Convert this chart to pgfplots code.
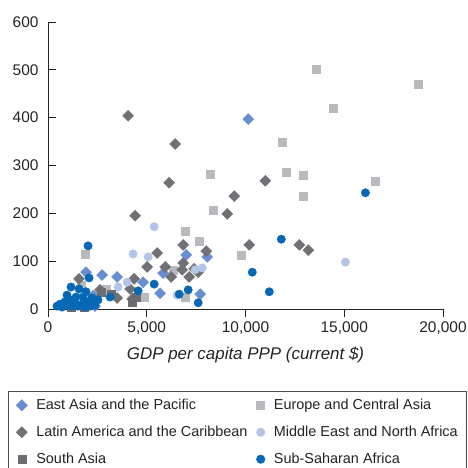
\documentclass[border=0pt]{standalone}
\usepackage{pgfplots}
\pgfplotsset{compat=1.18}
\usepackage{fontspec}
\setmainfont{Liberation Sans}

\definecolor{eap}{RGB}{104,142,208}
\definecolor{eca}{RGB}{185,186,190}
\definecolor{lac}{RGB}{112,113,116}
\definecolor{mena}{RGB}{178,197,232}
\definecolor{sa}{RGB}{108,109,112}
\definecolor{ssa}{RGB}{8,104,182}
\definecolor{txt}{RGB}{35,35,35}

\begin{document}
\begin{tikzpicture}
\begin{axis}[
    at={(48bp,-309bp)}, anchor=south west,
    scale only axis,
    width=395bp, height=287bp,
    xmin=0, xmax=20000, ymin=0, ymax=600,
    axis x line*=bottom, axis y line*=left,
    axis line style={txt, line width=0.7pt},
    xtick={0,5000,10000,15000,20000},
    ytick={0,100,...,600},
    scaled x ticks=false,
    xtick align=outside, ytick align=inside,
    major tick length=8bp,
    xtick style={draw=txt, line width=0.7pt},
    ytick style={draw=txt, line width=0.7pt},
    /pgf/number format/1000 sep={,},
    /pgf/number format/assume math mode=true,
    ticklabel style={font=\fontsize{15.5}{18}\selectfont, text=txt},
    x tick label style={yshift=-1bp},
    y tick label style={xshift=-6bp},
    xlabel={\textit{GDP per capita PPP (current \$)}},
    xlabel style={font=\fontsize{17}{19}\selectfont, text=txt, yshift=-6bp},
    clip=false,
    every axis plot/.append style={only marks},
    legend columns=2,
    legend cell align=left,
    legend image code/.code={\draw[mark repeat=2, mark phase=2, #1] plot coordinates {(0bp,0bp) (6bp,0bp) (12bp,0bp)};},
    legend style={
        at={(-0.1013,-0.2857)}, anchor=north west,
        draw=black!70, line width=0.6pt,
        font=\fontsize{14.5}{17}\selectfont,
        text=txt,
        inner xsep=8bp, inner ysep=7bp,
        nodes={inner sep=1bp},
        row sep=13bp,
        /tikz/every odd column/.append style={column sep=8bp},
        /tikz/every even column/.append style={column sep=8bp},
    },
]

% East Asia and the Pacific
\addplot[mark=square*, mark size=3.9bp, mark options={rotate=45, fill=eap, draw=eap}] coordinates {
    (10140,397) (6997,113) (8061,109) (5831,75) (4817,56) (5678,33)
    (7706,31) (1927,77) (2738,71) (3498,67) (2383,6) (2300,28)
};

% Europe and Central Asia
\addplot[mark=square*, mark size=4bp, mark options={fill=eca, draw=eca}] coordinates {
    (13590,502) (18760,469) (14450,420) (11860,349) (8213,282) (12067,287)
    (12929,280) (16579,268) (12929,236) (8366,207) (7656,142) (9785,113)
    (6946,163) (6338,82) (6946,25) (4867,25) (1876,115) (2940,42) (1700,50)
};

% Latin America and the Caribbean
\addplot[mark=square*, mark size=3.9bp, mark options={rotate=45, fill=lac, draw=lac}] coordinates {
    (4056,404) (6439,345) (6135,264) (11002,268) (9430,236) (9075,199)
    (4411,195) (10190,134) (12726,134) (13182,123) (8011,121) (6845,134)
    (5526,117) (5019,88) (5932,88) (6794,82) (6845,96) (7149,67)
    (7402,84) (6236,67) (4360,63) (1572,63) (2636,40) (3498,23)
    (4157,42) (4259,21) (7605,77)
};

% Middle East and North Africa
\addplot[mark=*, mark size=4.2bp, mark options={fill=mena, draw=mena}] coordinates {
    (5374,172) (4310,115) (5070,109) (3549,46) (4005,56) (7453,82)
    (7808,86) (6540,29) (15058,98)
};

% South Asia
\addplot[mark=square*, mark size=4bp, mark options={fill=sa, draw=sa}] coordinates {
    (4259,15) (4450,24) (1850,4) (1150,3) (2700,36) (3200,30)
};

% Sub-Saharan Africa
\addplot[mark=*, mark size=4.2bp, mark options={fill=ssa, draw=ssa}] coordinates {
    (456,6) (608,10) (710,4) (862,15) (1014,8) (1115,19) (1217,6)
    (1369,13) (1521,6) (1724,10) (1876,4) (2028,15) (2129,6) (2383,8)
    (2535,19) (2231,23) (1775,25) (1420,25) (963,29) (1166,46) (1572,42)
    (1927,36) (2079,65) (2028,132) (3143,25) (4563,38) (5374,52)
    (6642,31) (7098,40) (7605,13) (10343,77) (11205,36) (11813,146)
    (16072,243)
};

\legend{East Asia and the Pacific, Europe and Central Asia,
        Latin America and the Caribbean, Middle East and North Africa,
        South Asia, Sub-Saharan Africa}
\end{axis}
\pgfresetboundingbox
\useasboundingbox (0bp,0bp) rectangle (468bp,-468bp);
\end{tikzpicture}
\end{document}
